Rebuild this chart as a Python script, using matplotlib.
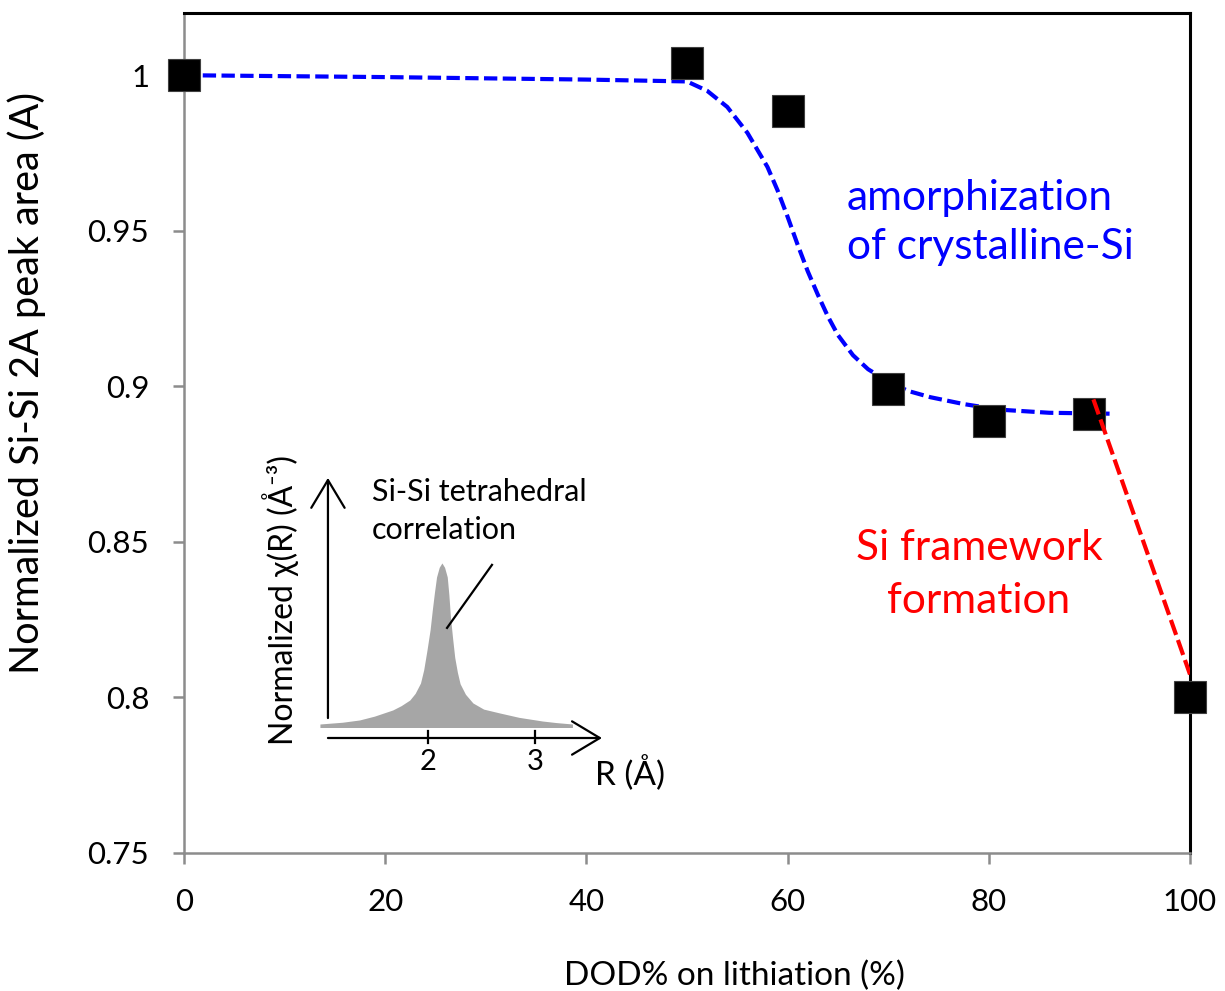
"""Нормированная площадь пика Si-Si 2A в зависимости от DOD% при литиировании."""

import matplotlib
matplotlib.use("Agg")
import matplotlib.pyplot as plt

FONT = ["Lato", "DejaVu Sans"]
plt.rcParams["font.family"] = FONT

# измеренные точки
dod = [0, 50, 60, 70, 80, 90, 100]
area = [1.0, 1.0039, 0.9884, 0.899, 0.889, 0.891, 0.80]

# синяя пунктирная кривая
fit_x = [0, 10, 20, 30, 40, 50, 52, 54, 56, 58, 59, 60, 61, 62, 63, 64, 65,
         66.5, 68, 70, 72, 74.2, 77.5, 81.1, 86.0, 92.2]
fit_y = [1.0, 0.9997, 0.9994, 0.999, 0.9986, 0.998, 0.9950, 0.9898, 0.9815,
         0.9705, 0.9630, 0.9545, 0.9455, 0.9370, 0.9295, 0.9225, 0.9165,
         0.9100, 0.9055, 0.9015, 0.8985, 0.8965, 0.8943, 0.8925, 0.8915,
         0.8912]

# красная пунктирная линия
red_x = [90.4, 100.0]
red_y = [0.8958, 0.8074]

x_ticks = [0, 20, 40, 60, 80, 100]
y_ticks = [0.75, 0.8, 0.85, 0.9, 0.95, 1.0]
y_tick_labels = ["0.75", "0.8", "0.85", "0.9", "0.95", "1"]

# вставка: форма пика chi(R)
peak_r = [0.99, 1.2, 1.36, 1.5, 1.67, 1.75, 1.83, 1.88, 1.93, 1.96, 1.99,
          2.02, 2.04, 2.06, 2.08, 2.105, 2.13, 2.155, 2.18, 2.195, 2.21,
          2.23, 2.25, 2.275, 2.30, 2.35, 2.42, 2.52, 2.67, 2.85, 3.07, 3.2,
          3.35]
peak_top = [0.08, 0.09, 0.103, 0.125, 0.16, 0.185, 0.217, 0.255, 0.314, 0.39,
            0.50, 0.62, 0.73, 0.83, 0.92, 0.975, 1.0, 0.975, 0.92, 0.82,
            0.69, 0.57, 0.46, 0.375, 0.31, 0.25, 0.20, 0.165, 0.143, 0.118,
            0.097, 0.088, 0.08]
peak_base = 0.06
inset_ticks = [2, 3]

GRAY = "#8c8c8c"

fig = plt.figure(figsize=(12.25, 9.91), dpi=100)
ax = fig.add_axes([184 / 1225, 138 / 991, 1006 / 1225, 840 / 991])

ax.plot(fit_x, fit_y, color="#0000ff", lw=3, ls=(0, (3.2, 1.3)), zorder=2)
ax.plot(red_x, red_y, color="#ff0000", lw=3, ls=(0, (3.8, 1.3)), zorder=4)
ax.plot(dod, area, ls="none", marker="s", ms=23.5, mfc="black",
        mec="#404040", mew=0.8, clip_on=False, zorder=3)

ax.set_xlim(0, 100)
ax.set_ylim(0.75, 1.02)
ax.set_xticks(x_ticks)
ax.set_yticks(y_ticks)
ax.set_yticklabels(y_tick_labels)
ax.tick_params(direction="out", length=8, width=1.8, color=GRAY,
               labelsize=22.5, pad=17)

for side in ("left", "bottom"):
    ax.spines[side].set_color(GRAY)
    ax.spines[side].set_linewidth(1.8)
for side in ("top", "right"):
    ax.spines[side].set_color("black")
    ax.spines[side].set_linewidth(2.2)

fig.text(734 / 1225, 6 / 991, "DOD% on lithiation (%)", fontsize=24,
         ha="center", va="baseline")
fig.text(27 / 1225, 1 - 383 / 991, "Normalized Si-Si 2A peak area (A)",
         fontsize=28.5, rotation=90, ha="center", va="center")

fig.text(847 / 1225, 1 - 210 / 991, "amorphization", fontsize=30.5,
         color="#0000ff", va="baseline")
fig.text(847 / 1225, 1 - 259 / 991, "of crystalline-Si", fontsize=30.5,
         color="#0000ff", va="baseline")
fig.text(979 / 1225, 1 - 560 / 991, "Si framework", fontsize=30.5,
         color="#ff0000", ha="center", va="baseline")
fig.text(979 / 1225, 1 - 613 / 991, "formation", fontsize=30.5,
         color="#ff0000", ha="center", va="baseline")

# вставка
ins = fig.add_axes([318 / 1225, 246 / 991, 292 / 1225, 275 / 991])
ins.set_xlim(0.972, 3.701)
ins.set_ylim(-0.04, 1.531)
ins.axis("off")
ins.patch.set_alpha(0)

ins.fill_between(peak_r, [peak_base] * len(peak_r), peak_top,
                 color="#a6a6a6", lw=0)

arrow = dict(arrowstyle="->,head_length=1.0,head_width=0.6",
             mutation_scale=20, lw=1.6, color="black",
             shrinkA=0, shrinkB=0)
ins.annotate("", xy=(1.065, 1.486), xytext=(1.065, 0.114),
             arrowprops=arrow, annotation_clip=False)
ins.annotate("", xy=(3.626, 0.0), xytext=(1.065, 0.0),
             arrowprops=arrow, annotation_clip=False)
for t in inset_ticks:
    ins.plot([t, t], [-0.029, 0.04], color="black", lw=1.6, clip_on=False)
    ins.text(t, -0.137, str(t), fontsize=21, ha="center", va="center")

ins.text(3.56, -0.2, "R (Å)", fontsize=24, ha="left", va="center")
ins.text(1.477, 1.486, "Si-Si tetrahedral\ncorrelation", fontsize=22,
         ha="left", va="top", linespacing=1.45)
ins.plot([2.178, 2.598], [0.629, 0.989], color="black", lw=1.6)
ins.text(0.617, 0.789, "Normalized χ(R) (Å⁻³)", fontsize=23, rotation=90,
         ha="center", va="center", family=FONT)

fig.savefig("out.png", dpi=100)
